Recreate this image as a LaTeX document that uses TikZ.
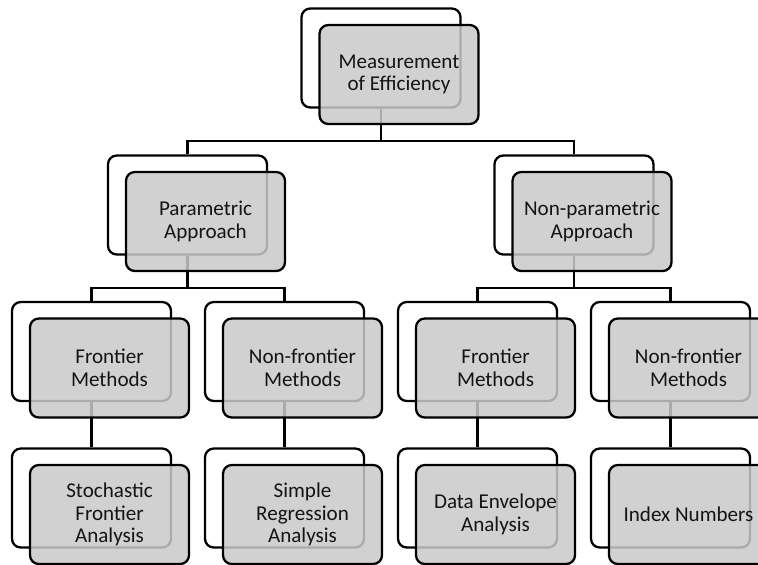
\documentclass[tikz,border=0pt]{standalone}
\usepackage{fontspec}
\setmainfont{Carlito}
\usepackage{tikz}
\usetikzlibrary{positioning, calc}
\definecolor{boxgrey}{HTML}{C9C9C9}
\definecolor{inkdark}{HTML}{141414}
\tikzset{
  backbox/.style={draw=black, fill=white, rounded corners=5pt, line width=1.3pt,
                  minimum width=3.18cm, minimum height=1.98cm, inner sep=0pt},
  frontbox/.style={draw=black, fill=boxgrey, fill opacity=0.85, text opacity=1, text=inkdark,
                   rounded corners=5pt, line width=1.3pt, minimum width=3.18cm, minimum height=1.98cm,
                   inner sep=2pt, align=center, font=\fontsize{12}{13}\selectfont},
  link/.style={line width=1.3pt, color=black},
}

\begin{document}
\begin{tikzpicture}[x=1cm, y=1cm]
  \useasboundingbox (0,0) rectangle (15.16,-11.28);
  % outline boxes behind
  \foreach \n/\x/\y in {eff/7.62/-1.16, par/3.75/-4.10, npar/11.48/-4.10,
      pfr/1.83/-7.03, pnf/5.69/-7.03, nfr/9.55/-7.03, nnf/13.41/-7.03,
      sfa/1.83/-9.96, sra/5.69/-9.96, dea/9.55/-9.96, idx/13.41/-9.96}
    \node[backbox] (\n) at (\x,\y) {};
  % tree connectors
  \draw[link] (eff.south) -- ++(0,-0.64) -| (par.north);
  \draw[link] (eff.south) -- ++(0,-0.64) -| (npar.north);
  \foreach \p/\a/\b in {par/pfr/pnf, npar/nfr/nnf} {
    \draw[link] (\p.south) -- ++(0,-0.65) -| (\a.north);
    \draw[link] (\p.south) -- ++(0,-0.65) -| (\b.north);
  }
  \foreach \a/\b in {pfr/sfa, pnf/sra, nfr/dea, nnf/idx}
    \draw[link] (\a.south) -- (\b.north);
  % shaded boxes with labels
  \foreach \n/\t in {eff/{Measurement\\of Efficiency}, par/{Parametric\\Approach},
      npar/{Non-parametric\\Approach}, pfr/{Frontier\\Methods}, pnf/{Non-frontier\\Methods},
      nfr/{Frontier\\Methods}, nnf/{Non-frontier\\Methods},
      sfa/{Stochastic\\Frontier\\Analysis}, sra/{Simple\\Regression\\Analysis},
      dea/{Data Envelope\\Analysis}, idx/{Index Numbers}}
    \node[frontbox] (\n-f) at ([shift={(0.36,-0.33)}]\n.center) {\t};
\end{tikzpicture}
\end{document}
